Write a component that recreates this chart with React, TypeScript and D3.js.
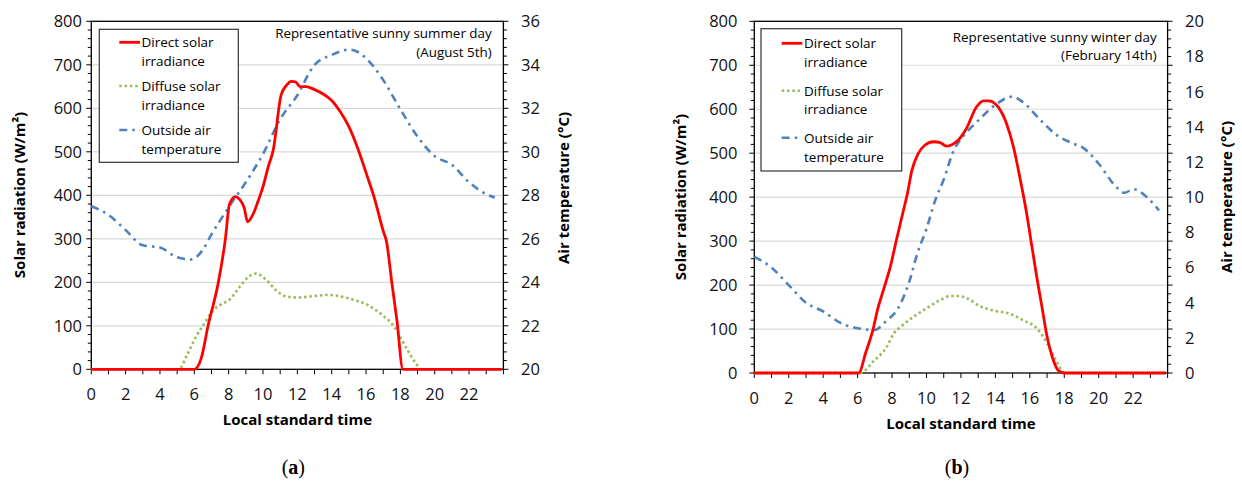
import React from 'react';
import * as d3 from 'd3';

// ---------- DATA ----------
const xTickLabels = [0, 2, 4, 6, 8, 10, 12, 14, 16, 18, 20, 22];
const solarTicks = [0, 100, 200, 300, 400, 500, 600, 700, 800];
const tempTicksA = [20, 22, 24, 26, 28, 30, 32, 34, 36];
const tempTicksB = [0, 2, 4, 6, 8, 10, 12, 14, 16, 18, 20];

// Panel (a) summer
const aDirectH = [0, 6.0, 6.4, 6.8, 7.4, 7.8, 8.05, 8.4, 8.65, 8.9, 9.1, 9.4, 9.7, 10.0, 10.3, 10.6, 11.05, 11.35, 11.65, 11.9, 12.15, 12.5, 13.0, 13.5, 14.0, 14.5, 15.0, 15.5, 16.0, 16.5, 17.0, 17.2, 17.5, 17.8, 18.15, 23.9];
const aDirectV = [0, 0, 25, 100, 200, 297, 380, 397, 390, 372, 339, 355, 385, 420, 465, 505, 630, 652, 662, 661, 650, 650, 643, 633, 618, 592, 558, 510, 452, 392, 318, 292, 200, 112, 0, 0];
const aDiffuseH = [0, 5.1, 5.6, 6.1, 6.5, 7.1, 7.6, 8.05, 8.65, 9.2, 9.6, 10.2, 10.8, 11.4, 12.0, 12.9, 13.8, 14.8, 15.5, 16.0, 16.5, 17.0, 17.5, 17.8, 18.3, 18.9, 19.2, 23.9];
const aDiffuseV = [0, 0, 35, 75, 100, 136, 150, 160, 190, 214, 220, 205, 180, 167, 165, 168, 171, 165, 157, 150, 138, 123, 105, 88, 52, 14, 0, 0];
const aTempH = [0, 1, 2, 3, 4, 5, 5.8, 6.5, 7, 8, 9, 10, 11, 12, 13, 14, 15, 15.5, 16, 17, 18, 19, 20, 21, 22, 23, 23.5];
const aTempV = [27.5, 27.1, 26.4, 25.7, 25.6, 25.15, 25.05, 25.5, 26.2, 27.45, 28.6, 29.9, 31.5, 32.6, 34.0, 34.45, 34.7, 34.6, 34.3, 33.3, 31.95, 30.7, 29.8, 29.4, 28.6, 28.05, 27.9];

// Panel (b) winter
const bDirectH = [0, 6.05, 6.5, 6.9, 7.15, 7.5, 7.9, 8.25, 8.6, 8.9, 9.15, 9.5, 9.9, 10.4, 10.8, 11.15, 11.5, 11.8, 12.3, 12.9, 13.3, 13.65, 14.0, 14.2, 14.65, 15.05, 15.45, 15.85, 16.05, 16.4, 16.7, 17.0, 17.3, 17.65, 18.0, 23.9];
const bDirectV = [0, 0, 50, 100, 143, 189, 242, 302, 360, 410, 461, 498, 518, 526, 524, 516, 520, 528, 555, 605, 619, 619, 612, 603, 567, 514, 439, 355, 305, 219, 151, 83, 37, 6, 0, 0];
const bDiffuseH = [0, 6.15, 6.9, 7.7, 8.1, 8.5, 9.25, 10.0, 10.8, 11.4, 11.8, 12.35, 13.1, 13.9, 14.9, 15.6, 16.4, 17.0, 17.5, 18.05, 23.9];
const bDiffuseV = [0, 0, 26, 60, 90, 105, 128, 147, 166, 175, 175, 170, 152, 142, 134, 120, 102, 68, 30, 0, 0];
const bTempH = [0, 1, 2, 3, 4, 5, 6, 7, 7.7, 8.3, 9, 9.5, 10, 10.5, 11, 11.6, 12, 13, 14, 15, 15.6, 16.6, 17.6, 18.5, 19.1, 20, 21, 21.5, 22, 22.8, 23.5];
const bTempV = [6.6, 6.0, 5.0, 4.0, 3.5, 2.85, 2.55, 2.45, 3.0, 3.6, 5.2, 6.9, 8.2, 9.8, 11.0, 12.7, 13.3, 14.35, 15.25, 15.72, 15.4, 14.4, 13.5, 13.05, 12.8, 11.9, 10.6, 10.25, 10.45, 10.0, 9.25];

const legendLabels = [
  ['Direct solar', 'irradiance'],
  ['Diffuse solar', 'irradiance'],
  ['Outside air', 'temperature'],
];

// ---------- STYLE ----------
const FONT = "'Open Sans', 'Noto Sans', sans-serif";
const RED = '#FF0000';
const GREEN = '#9BBB59';
const BLUE = '#4F81BD';

type PanelCfg = {
  left: number; right: number; top: number; bottom: number;
  tempDomain: [number, number]; tempTicks: number[];
  direct: [number[], number[]]; diffuse: [number[], number[]]; temp: [number[], number[]];
  leftLabelEnd: number; rightLabelStart: number;
  leftTitleX: number; leftTitleY: number; rightTitleX: number; rightTitleY: number;
  xLabelBase: number; xTitleBase: number;
  legend: { x: number; y: number; w: number; h: number; lx1: number; lx2: number; tx: number; rows: number[] };
  note: string[]; noteX: number; noteY: number[];
  caption: string; captionY: number;
};

function Panel({ c }: { c: PanelCfg }) {
  const x = d3.scaleLinear().domain([0, 24]).range([c.left, c.right]);
  const y = d3.scaleLinear().domain([0, 800]).range([c.bottom, c.top]);
  const t = d3.scaleLinear().domain(c.tempDomain).range([c.bottom, c.top]);
  const mk = (H: number[], V: number[], sc: d3.ScaleLinear<number, number>) =>
    d3.line<number>().x((_, i) => x(H[i])).y((v) => sc(v)).curve(d3.curveMonotoneX)(V) || '';
  const hourTicks = d3.range(0, 25);
  const solarMinor = d3.range(0, 801, 20);
  const tStep = (c.tempDomain[1] - c.tempDomain[0]) / 40;
  const tempMinor = d3.range(0, 41).map((i) => c.tempDomain[0] + i * tStep);
  const cx = (c.left + c.right) / 2;
  return (
    <g>
      {solarTicks.slice(1, -1).map((v) => (
        <line key={'g' + v} x1={c.left} x2={c.right} y1={y(v)} y2={y(v)} stroke="#d9d9d9" strokeWidth={1.2} />
      ))}
      <rect x={c.left} y={c.top} width={c.right - c.left} height={c.bottom - c.top} fill="none" stroke="#000" strokeWidth={1.3} />
      {/* left ticks */}
      {solarMinor.map((v) => (
        <line key={'lm' + v} x1={c.left - (v % 100 === 0 ? 5 : 3.5)} x2={c.left} y1={y(v)} y2={y(v)} stroke="#000" strokeWidth={1} />
      ))}
      {tempMinor.map((v, i) => (
        <line key={'rm' + i} x1={c.right} x2={c.right + (i % 5 === 0 ? 5 : 3.5)} y1={t(v)} y2={t(v)} stroke="#000" strokeWidth={1} />
      ))}
      {hourTicks.map((h) => (
        <line key={'xt' + h} x1={x(h)} x2={x(h)} y1={c.bottom} y2={c.bottom + 5} stroke="#000" strokeWidth={1} />
      ))}
      {solarTicks.map((v) => (
        <text key={'ll' + v} x={c.leftLabelEnd} y={y(v)} dy="0.36em" textAnchor="end" fontSize={16.5} fontFamily={FONT} fill="#111">{v}</text>
      ))}
      {c.tempTicks.map((v) => (
        <text key={'rl' + v} x={c.rightLabelStart} y={t(v)} dy="0.36em" textAnchor="start" fontSize={16.5} fontFamily={FONT} fill="#111">{v}</text>
      ))}
      {xTickLabels.map((h) => (
        <text key={'xl' + h} x={x(h)} y={c.xLabelBase} textAnchor="middle" fontSize={16.5} fontFamily={FONT} fill="#111">{h}</text>
      ))}
      <text x={cx} y={c.xTitleBase} textAnchor="middle" fontSize={15} fontWeight="bold" fontFamily={FONT} fill="#000">Local standard time</text>
      <text transform={`translate(${c.leftTitleX},${c.leftTitleY}) rotate(-90)`} textAnchor="middle" dy="0.36em" fontSize={15} fontWeight="bold" fontFamily={FONT} fill="#000">Solar radiation (W/m²)</text>
      <text transform={`translate(${c.rightTitleX},${c.rightTitleY}) rotate(-90)`} textAnchor="middle" dy="0.36em" fontSize={15} fontWeight="bold" fontFamily={FONT} fill="#000">Air temperature (°C)</text>

      <path d={mk(c.temp[0], c.temp[1], t)} fill="none" stroke={BLUE} strokeWidth={2.6} strokeDasharray="8,5,2.5,5" />
      <path d={mk(c.diffuse[0], c.diffuse[1], y)} fill="none" stroke={GREEN} strokeWidth={2.6} strokeDasharray="2.5,2.8" />
      <path d={mk(c.direct[0], c.direct[1], y)} fill="none" stroke={RED} strokeWidth={2.8} />

      {/* legend */}
      <rect x={c.legend.x} y={c.legend.y} width={c.legend.w} height={c.legend.h} fill="#fff" stroke="#333" strokeWidth={1.2} />
      <line x1={c.legend.lx1} x2={c.legend.lx2} y1={c.legend.rows[0]} y2={c.legend.rows[0]} stroke={RED} strokeWidth={2.8} />
      <line x1={c.legend.lx1} x2={c.legend.lx2} y1={c.legend.rows[2]} y2={c.legend.rows[2]} stroke={GREEN} strokeWidth={2.6} strokeDasharray="2.5,2.8" />
      <line x1={c.legend.lx1} x2={c.legend.lx2} y1={c.legend.rows[4]} y2={c.legend.rows[4]} stroke={BLUE} strokeWidth={2.6} strokeDasharray="8,5,2.5,5" />
      {legendLabels.flat().map((s, i) => (
        <text key={'lg' + i} x={c.legend.tx} y={c.legend.rows[i]} dy="0.36em" fontSize={13.5} fontFamily={FONT} fill="#000">{s}</text>
      ))}
      {c.note.map((s, i) => (
        <text key={'n' + i} x={c.noteX} y={c.noteY[i]} dy="0.36em" textAnchor="end" fontSize={13.4} fontFamily={FONT} fill="#000">{s}</text>
      ))}
      <text x={cx - 4} y={c.captionY} textAnchor="middle" fontSize={20} fontFamily="'Liberation Serif', 'DejaVu Serif', serif" fill="#000">
        (<tspan fontWeight="bold">{c.caption}</tspan>)
      </text>
    </g>
  );
}

const panelA: PanelCfg = {
  left: 91.3, right: 503.4, top: 21.3, bottom: 369.3,
  tempDomain: [20, 36], tempTicks: tempTicksA,
  direct: [aDirectH, aDirectV], diffuse: [aDiffuseH, aDiffuseV], temp: [aTempH, aTempV],
  leftLabelEnd: 82, rightLabelStart: 521,
  leftTitleX: 20, leftTitleY: 195, rightTitleX: 563.5, rightTitleY: 188,
  xLabelBase: 399.5, xTitleBase: 424.5,
  legend: { x: 99.3, y: 29.3, w: 139, h: 133, lx1: 119.3, lx2: 140, tx: 141.5, rows: [42.3, 61, 86, 105, 130, 149] },
  note: ['Representative sunny summer day', '(August 5th)'], noteX: 491.7, noteY: [33.3, 52.3],
  caption: 'a', captionY: 474,
};

const panelB: PanelCfg = {
  left: 754.3, right: 1167.6, top: 21.3, bottom: 373,
  tempDomain: [0, 20], tempTicks: tempTicksB,
  direct: [bDirectH, bDirectV], diffuse: [bDiffuseH, bDiffuseV], temp: [bTempH, bTempV],
  leftLabelEnd: 737.5, rightLabelStart: 1185,
  leftTitleX: 681, leftTitleY: 197, rightTitleX: 1227, rightTitleY: 197,
  xLabelBase: 403.5, xTitleBase: 428.5,
  legend: { x: 761, y: 28.7, w: 140.7, h: 142.3, lx1: 781.7, lx2: 802.3, tx: 804, rows: [43.3, 62.3, 90.7, 109.3, 137.7, 156.7] },
  note: ['Representative sunny winter day', '(February 14th)'], noteX: 1156.7, noteY: [36.7, 55],
  caption: 'b', captionY: 474,
};

export default function App() {
  return (
    <svg width={1242} height={482} style={{ position: 'absolute', left: 0, top: 0, background: '#fff' }}>
      <rect width={1242} height={482} fill="#fff" />
      <Panel c={panelA} />
      <Panel c={panelB} />
    </svg>
  );
}
